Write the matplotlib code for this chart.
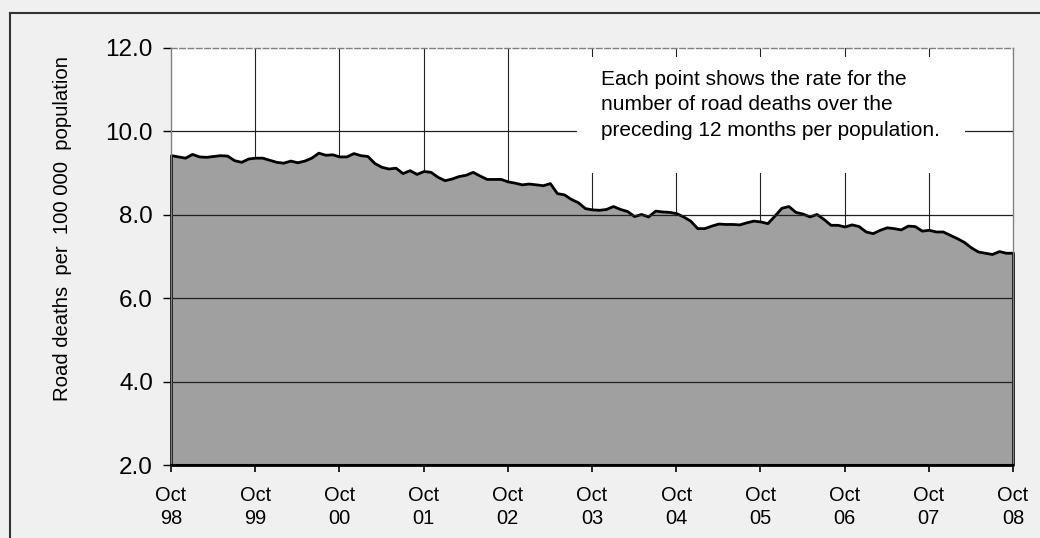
import matplotlib
matplotlib.use("Agg")
import matplotlib.pyplot as plt
from matplotlib.lines import Line2D
from matplotlib.patches import Rectangle

plt.rcParams['font.family'] = ['Liberation Sans', 'DejaVu Sans']

# Monthly rate, Oct 1998 .. Oct 2008 (121 points)
rate = [
    9.43, 9.40, 9.37, 9.46, 9.40, 9.39, 9.41, 9.43, 9.42, 9.31, 9.27, 9.35,
    9.37, 9.37, 9.32, 9.27, 9.25, 9.30, 9.26, 9.30, 9.37, 9.49, 9.44, 9.45,
    9.40, 9.40, 9.48, 9.43, 9.41, 9.24, 9.15, 9.11, 9.13, 9.00, 9.07, 8.98,
    9.05, 9.03, 8.91, 8.83, 8.87, 8.93, 8.96, 9.03, 8.94, 8.86, 8.86, 8.86,
    8.80, 8.77, 8.73, 8.75, 8.73, 8.71, 8.76, 8.52, 8.49, 8.38, 8.30, 8.16,
    8.13, 8.12, 8.14, 8.21, 8.14, 8.09, 7.97, 8.02, 7.96, 8.10, 8.08, 8.07,
    8.04, 7.96, 7.86, 7.68, 7.68, 7.74, 7.79, 7.78, 7.78, 7.77, 7.82, 7.86,
    7.84, 7.80, 7.98, 8.17, 8.21, 8.07, 8.03, 7.96, 8.02, 7.90, 7.76, 7.76,
    7.72, 7.77, 7.73, 7.60, 7.56, 7.64, 7.70, 7.68, 7.65, 7.74, 7.73, 7.62,
    7.64, 7.60, 7.60, 7.52, 7.44, 7.35, 7.22, 7.12, 7.09, 7.06, 7.13, 7.09,
    7.09,
]
month_index = list(range(len(rate)))
tick_months = list(range(0, 121, 12))
tick_labels = ["Oct\n98", "Oct\n99", "Oct\n00", "Oct\n01", "Oct\n02", "Oct\n03",
               "Oct\n04", "Oct\n05", "Oct\n06", "Oct\n07", "Oct\n08"]
y_ticks = [2.0, 4.0, 6.0, 8.0, 10.0, 12.0]
y_label = "Road deaths  per  100 000  population"
note = ("Each point shows the rate for the\n"
        "number of road deaths over the\n"
        "preceding 12 months per population.")

W, H = 1040, 538
fig = plt.figure(figsize=(W / 100, H / 100), dpi=100)
fig.patch.set_facecolor('#f0f0f0')

L, R, T, B = 171, 1013, 48, 465
ax = fig.add_axes([L / W, 1 - B / H, (R - L) / W, (B - T) / H])
ax.set_facecolor('white')

ax.set_xlim(0, 120)
ax.set_ylim(2, 12)

# vertical gridlines (behind area)
for m in tick_months[1:-1]:
    ax.axvline(m, color='#222222', lw=0.8, zorder=1)

ax.fill_between(month_index, 2, rate, facecolor='#a0a0a0', edgecolor='black',
                linewidth=2.0, zorder=2, clip_on=False)

# horizontal gridlines (over area)
for yv in y_ticks[1:-1]:
    ax.axhline(yv, color='#202020', lw=0.9, zorder=3)

# white note box covering gridlines
ax.add_patch(Rectangle((0.482, 0.700), 0.461, 0.278, transform=ax.transAxes,
                       facecolor='white', edgecolor='none', zorder=4))
ax.text(0.511, 0.948, note, transform=ax.transAxes, ha='left', va='top',
        fontsize=15, linespacing=1.45, color='black', zorder=5)

ax.set_xticks(tick_months)
ax.set_xticklabels(tick_labels, fontsize=14.4, linespacing=1.3)
ax.set_yticks(y_ticks)
ax.set_yticklabels([f"{v:.1f}" for v in y_ticks], fontsize=17.5)
ax.tick_params(axis='x', direction='out', length=5, width=1.2, pad=10, colors='black')
ax.tick_params(axis='y', direction='out', length=6, width=1.0, pad=7, colors='black')

ax.set_ylabel(y_label, fontsize=14.6)
ax.yaxis.set_label_coords(-0.117, 0.568)

for s in ['left', 'right']:
    ax.spines[s].set_color('#808080')
    ax.spines[s].set_linewidth(1.0)
ax.spines['top'].set_color('#808080')
ax.spines['top'].set_linestyle((0, (4, 2)))
ax.spines['top'].set_linewidth(1.0)
ax.spines['bottom'].set_color('black')
ax.spines['bottom'].set_linewidth(1.5)
for s in ax.spines.values():
    s.set_zorder(6)

# outer frame (left & top)
fig.add_artist(Line2D([10 / W, 10 / W], [0, 1 - 13 / H], color='#333333', lw=1.5))
fig.add_artist(Line2D([10 / W, 1], [1 - 13 / H, 1 - 13 / H], color='#333333', lw=1.5))

fig.savefig('out.png', dpi=100, facecolor=fig.get_facecolor())
